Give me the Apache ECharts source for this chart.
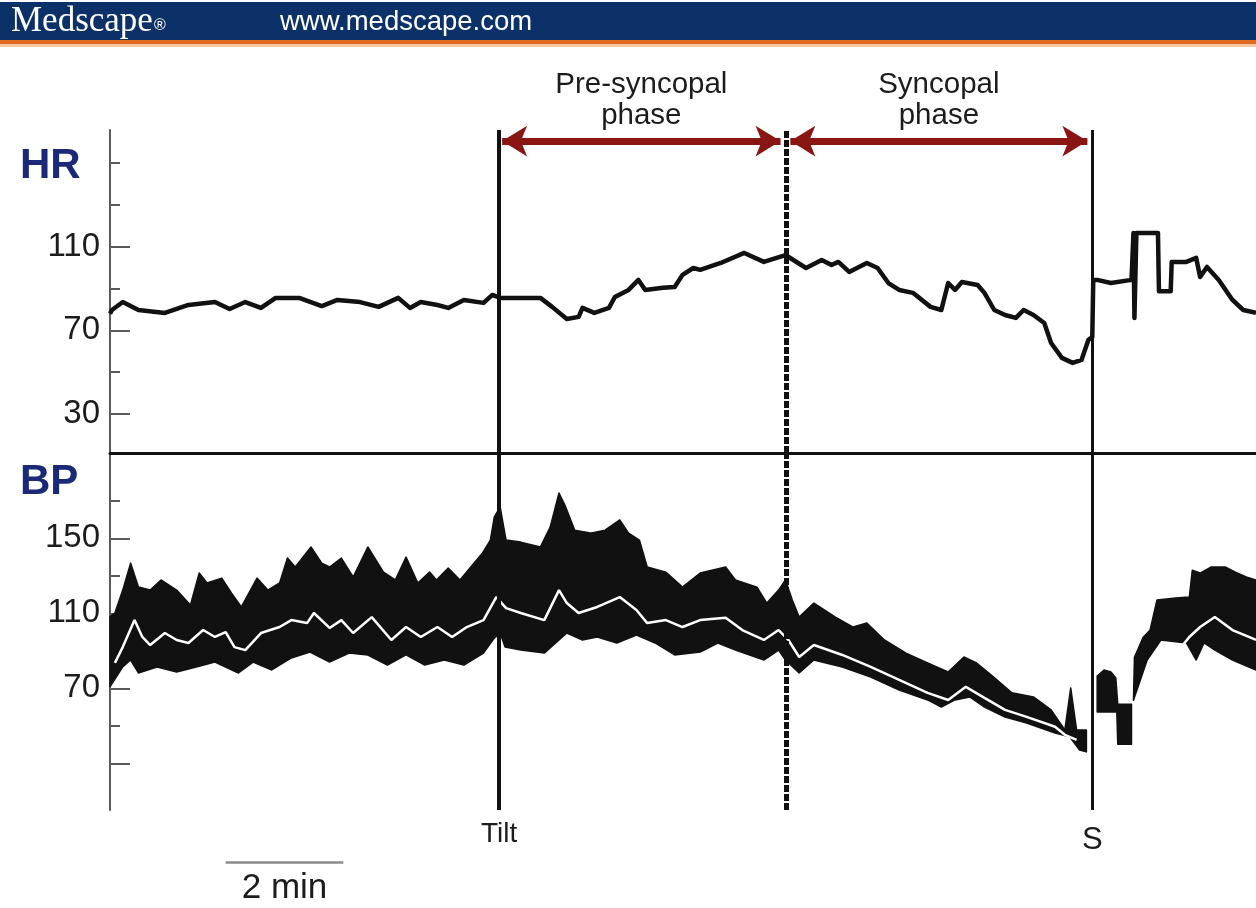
<!DOCTYPE html>
<html><head><meta charset="utf-8">
<script src="https://cdn.jsdelivr.net/npm/echarts@6/dist/echarts.min.js"></script>
<style>html,body{margin:0;padding:0;background:#fff}#c{width:1256px;height:908px}</style>
</head><body><div id="c"></div>
<script>
// time in seconds from start of recording
const hrTrace = [[0,78.0],[2,79.7],[13,83.5],[29,79.7],[56,78.3],[80,82.1],[107,83.5],[122,80.2],[138,83.5],[154,80.7],[169,85.5],[193,85.5],[216,81.6],[232,84.5],[255,83.5],[274,81.2],[294,85.5],[306,80.7],[317,83.5],[334,82.1],[345,80.7],[361,84.5],[381,83.1],[390,86.9],[398,85.5],[419,85.5],[439,85.5],[451,81.2],[466,75.4],[478,76.4],[482,80.7],[494,78.3],[509,80.7],[515,85.9],[529,89.3],[539,94.1],[546,89.3],[564,90.3],[576,90.7],[584,96.5],[595,99.8],[602,98.9],[623,102.2],[647,107.0],[667,102.7],[689,106.0],[710,99.8],[726,103.6],[736,101.2],[743,102.7],[754,97.9],[772,102.2],[783,99.8],[794,92.6],[805,89.3],[819,87.9],[837,81.2],[848,79.7],[855,92.6],[862,89.3],[869,93.1],[885,91.7],[892,87.9],[902,79.7],[913,77.3],[924,75.9],[932,79.7],[942,77.3],[953,73.5],[960,63.9],[971,56.8],[982,54.4],[991,55.8],[998,65.4],[1002,66.8],[1003,94.1],[1007,94.1],[1021,92.6],[1042,94.1],[1044,116.5],[1045,75.9],[1047,116.5],[1069,116.5],[1070,88.7],[1082,88.7],[1083,102.7],[1098,102.7],[1108,104.6],[1112,95.5],[1119,100.3],[1131,94.1],[1145,84.5],[1156,79.7],[1169,78.3]];

const bpSysPre = [[0,108.2],[5,110.2],[13,122.4],[21,136.8],[29,124.0],[41,122.4],[52,127.8],[68,122.4],[82,114.4],[91,131.5],[99,126.2],[114,128.8],[124,120.8],[134,113.4],[150,128.8],[161,122.4],[173,126.2],[181,139.5],[189,134.7],[205,145.4],[216,136.8],[224,134.7],[236,139.5],[248,129.4],[263,145.4],[279,132.0],[291,127.8],[302,140.0],[314,126.2],[326,132.0],[333,127.8],[345,134.2],[357,127.8],[368,134.7],[380,142.2],[388,149.1],[392,161.4],[398,166.7],[404,149.1],[419,148.0],[439,145.4],[449,156.0],[458,174.2],[464,167.8],[474,154.4],[490,152.8],[505,154.4],[520,159.8],[529,152.8],[540,149.1],[548,134.7],[567,132.0],[584,124.0],[602,131.5],[628,134.7],[638,127.8],[660,124.0],[670,115.5],[682,122.4],[689,127.8],[696,117.1],[703,108.0],[718,115.5],[740,108.0],[758,102.7],[772,104.8],[790,95.8],[812,88.8],[834,83.5],[855,78.7],[871,86.7],[884,83.5],[899,77.1],[920,67.6],[942,65.4],[960,58.5],[974,47.8],[980,70.2],[986,47.8],[996,47.8]];
const bpDiaPre = [[0,70.8],[13,81.4],[21,85.1],[29,78.2],[48,81.4],[68,78.7],[88,81.4],[107,84.0],[131,78.2],[146,84.0],[165,79.8],[185,86.2],[204,89.4],[224,84.0],[244,88.8],[263,87.8],[283,82.4],[302,87.8],[321,82.4],[341,85.1],[361,82.4],[381,88.8],[392,96.8],[398,99.5],[403,92.0],[419,90.4],[443,88.8],[466,99.5],[482,95.8],[497,97.4],[517,94.2],[537,98.4],[556,94.2],[576,87.8],[602,89.4],[620,94.2],[638,90.4],[667,85.1],[682,90.4],[689,85.1],[703,78.2],[718,85.1],[747,81.4],[776,76.0],[805,69.1],[834,63.8],[848,60.0],[862,63.8],[877,65.4],[892,60.0],[913,54.7],[935,51.5],[964,46.2],[979,44.1],[989,37.1],[996,36.1]];
const bpMeanPre = [[5,83.6],[13,92.0],[25,106.4],[33,97.4],[41,93.1],[56,99.5],[68,95.8],[80,94.2],[95,101.1],[107,97.4],[118,100.0],[127,92.0],[138,90.4],[154,99.5],[173,102.7],[185,106.4],[201,104.8],[208,110.2],[224,102.2],[236,106.4],[248,99.5],[267,108.0],[287,95.8],[302,102.7],[317,97.4],[334,102.7],[349,97.4],[364,102.7],[381,106.4],[394,118.7],[404,112.8],[419,110.2],[443,106.4],[458,122.4],[466,115.5],[478,110.2],[497,113.4],[520,118.7],[537,111.8],[548,104.8],[567,106.4],[584,102.7],[602,106.4],[628,107.7],[645,101.1],[667,95.8],[682,101.1],[692,95.8],[703,86.7],[718,93.1],[747,87.8],[776,81.4],[805,74.5],[834,67.6],[855,63.8],[873,70.8],[892,64.9],[913,58.5],[935,54.8],[964,49.5],[974,45.2],[986,42.5]];

const bpSysBlob = [[1007,76.6],[1014,79.8],[1021,78.7],[1026,75.5],[1028,61.5],[1042,61.5]];
const bpDiaBlob = [[1007,57.4],[1027,57.4],[1028,40.2],[1042,40.2]];

const bpSysPost = [[1044,63.6],[1045,86.6],[1054,97.3],[1061,101.1],[1068,117.1],[1087,118.2],[1101,118.7],[1104,133.0],[1112,131.5],[1123,134.7],[1138,134.7],[1148,132.0],[1159,129.4],[1169,127.8]];
const bpDiaPost = [[1044,63.6],[1058,85.1],[1072,95.8],[1098,94.2],[1108,85.1],[1116,94.2],[1127,90.4],[1145,85.1],[1169,79.8]];
const bpMeanPost = [[1092,91.6],[1101,97.4],[1112,102.7],[1127,108.1],[1145,101.1],[1169,95.8]];

const hrMajorTicks = [30, 70, 110];
const hrMinorTicks = [50, 90, 130, 150];
const bpMajorTicks = [30, 70, 110, 150];
const bpLabelTicks = [70, 110, 150];
const bpMinorTicks = [50, 90, 130, 170];

const events = [{name: 'Tilt', t: 397}, {name: '', t: 690}, {name: 'S', t: 1002}];
const phases = [{label: 'Pre-syncopal\nphase', from: 400, to: 684}, {label: 'Syncopal\nphase', from: 694, to: 997}];
const phaseArrowLevel = 160.5;
const scaleBar = {from: 118, to: 238, label: '2 min'};

const FONT = "'Liberation Sans', Arial, Helvetica, sans-serif";
const INK = '#1c1c1c';
const AXIS = '#5a5a5a';
const T_MAX = 1169;

const bands = [[bpSysPre, bpDiaPre], [bpSysBlob, bpDiaBlob], [bpSysPost, bpDiaPost]];

const chart = echarts.init(document.getElementById('c'), null, {renderer: 'canvas'});

function majorAxis(grid, min, max, ticks, labels) {
  return {
    type: 'value', gridIndex: grid, min: min, max: max, position: 'left',
    axisLine: {show: true, lineStyle: {color: AXIS, width: 2}},
    axisTick: {show: true, inside: true, length: 20, customValues: ticks, lineStyle: {color: AXIS, width: 2}},
    axisLabel: {show: true, customValues: labels, margin: 10, fontSize: 33, color: INK, fontFamily: FONT},
    splitLine: {show: false}
  };
}
function minorAxis(grid, min, max, ticks) {
  return {
    type: 'value', gridIndex: grid, min: min, max: max, position: 'left',
    axisLine: {show: false},
    axisTick: {show: true, inside: true, length: 10, customValues: ticks, lineStyle: {color: AXIS, width: 2}},
    axisLabel: {show: false}, splitLine: {show: false}
  };
}

const eventLine = (withLabels) => events.map(e => ({
  xAxis: e.t,
  lineStyle: e.name === '' ? {type: [7, 2], width: 5, color: '#111'} : {type: 'solid', width: e.name === 'Tilt' ? 4 : 3, color: '#111'},
  label: {show: withLabels && e.name !== '', formatter: e.name, position: 'start',
    distance: e.name === 'S' ? 15 : 10, fontSize: e.name === 'S' ? 31 : 28, color: INK, fontFamily: FONT}
}));

const option = {
  animation: false,
  backgroundColor: '#fff',
  grid: [
    {left: 110, top: 130, width: 1146, height: 323},
    {left: 110, top: 454, width: 1146, height: 356},
    {left: 110, top: 850, width: 1146, height: 24}
  ],
  xAxis: [
    {type: 'value', gridIndex: 0, min: 0, max: T_MAX, axisLine: {show: true, onZero: false, lineStyle: {color: '#111', width: 3}}, axisTick: {show: false}, axisLabel: {show: false}, splitLine: {show: false}},
    {type: 'value', gridIndex: 1, min: 0, max: T_MAX, show: false},
    {type: 'value', gridIndex: 2, min: 0, max: T_MAX, show: false}
  ],
  yAxis: [
    majorAxis(0, 11.3, 165.8, hrMajorTicks, hrMajorTicks),
    minorAxis(0, 11.3, 165.8, hrMinorTicks),
    majorAxis(1, 5.1, 195, bpMajorTicks, bpLabelTicks),
    minorAxis(1, 5.1, 195, bpMinorTicks),
    {type: 'value', gridIndex: 2, min: 0, max: 1, show: false}
  ],
  graphic: [
    {type: 'rect', shape: {x: 0, y: 2, width: 1256, height: 38}, style: {fill: '#0c3169'}},
    {type: 'rect', shape: {x: 0, y: 40, width: 1256, height: 4}, style: {fill: '#de6a1f'}},
    {type: 'rect', shape: {x: 0, y: 44, width: 1256, height: 3}, style: {fill: '#f5c7a3'}},
    {type: 'text', style: {x: 11, y: 22, text: '{a|Medscape}{b|®}', textVerticalAlign: 'middle',
      rich: {a: {fontSize: 35, fontFamily: "'Liberation Serif', 'DejaVu Serif', serif", fill: '#fff', color: '#fff'},
             b: {fontSize: 16, fontFamily: FONT, fill: '#fff', color: '#fff', padding: [7, 0, 0, 1]}}}},
    {type: 'text', style: {x: 280, y: 22, text: 'www.medscape.com', fill: '#fff', fontSize: 27.5, fontFamily: FONT, textVerticalAlign: 'middle'}},
    {type: 'text', style: {x: 20, y: 166, text: 'HR', fill: '#1b2a78', fontSize: 42, fontWeight: 'bold', fontFamily: FONT, textVerticalAlign: 'middle'}},
    {type: 'text', style: {x: 20, y: 482, text: 'BP', fill: '#1b2a78', fontSize: 42, fontWeight: 'bold', fontFamily: FONT, textVerticalAlign: 'middle'}}
  ],
  series: [
    {
      type: 'line', name: 'HR', xAxisIndex: 0, yAxisIndex: 0, data: hrTrace, showSymbol: false, smooth: false,
      lineStyle: {color: '#111', width: 4.5, join: 'round'}, z: 3,
      markLine: {
        silent: true, symbol: 'none', animation: false, z: 10,
        data: eventLine(false).concat(phases.map(p => [
          {coord: [p.from, phaseArrowLevel], symbol: 'arrow', symbolSize: [23, 25],
           label: {show: true, position: 'middle', formatter: p.label, distance: 10, fontSize: 29.5, lineHeight: 31, color: INK, fontFamily: FONT},
           lineStyle: {color: '#8a1613', width: 7, type: 'solid'}},
          {coord: [p.to, phaseArrowLevel], symbol: 'arrow', symbolSize: [23, 25]}
        ]))
      }
    },
    {
      type: 'custom', name: 'BP band', xAxisIndex: 1, yAxisIndex: 2,
      data: bands.map((b, i) => [b[0][0][0], b[0][0][1], i]),
      renderItem: function (params, api) {
        const b = bands[params.dataIndex];
        const pts = b[0].map(p => api.coord(p)).concat(b[1].slice().reverse().map(p => api.coord(p)));
        return {type: 'polygon', shape: {points: pts}, style: {fill: '#111', stroke: '#111', lineWidth: 1.5, lineJoin: 'round'}};
      },
      z: 2
    },
    {type: 'line', name: 'BP mean', xAxisIndex: 1, yAxisIndex: 2, data: bpMeanPre, showSymbol: false, lineStyle: {color: '#fff', width: 2.5}, z: 4},
    {type: 'line', name: 'BP mean post', xAxisIndex: 1, yAxisIndex: 2, data: bpMeanPost, showSymbol: false, lineStyle: {color: '#fff', width: 2.5}, z: 4},
    {
      type: 'line', name: 'events', xAxisIndex: 1, yAxisIndex: 2, data: [[0, -100]], showSymbol: false, lineStyle: {width: 0}, z: 10,
      markLine: {silent: true, symbol: 'none', animation: false, data: eventLine(true)}
    },
    {
      type: 'line', name: 'scale', xAxisIndex: 2, yAxisIndex: 4, data: [[scaleBar.from, 0.5]], showSymbol: false, lineStyle: {width: 0},
      markLine: {silent: true, symbol: 'none', animation: false,
        data: [[{coord: [scaleBar.from, 0.5], lineStyle: {color: '#8a8a8a', width: 2.5, type: 'solid'},
                 label: {show: true, formatter: scaleBar.label, position: 'insideMiddleBottom', distance: 9, fontSize: 35, color: INK, fontFamily: FONT}},
                {coord: [scaleBar.to, 0.5]}]]}
    }
  ]
};
chart.setOption(option);
</script>
</body></html>
